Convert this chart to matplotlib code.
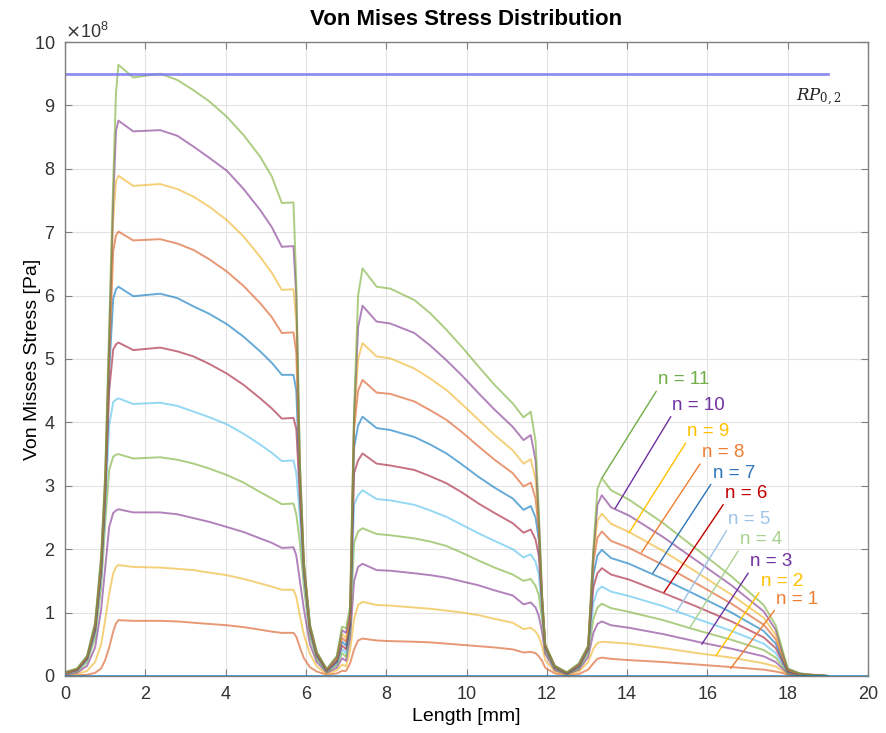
import matplotlib as mpl
import matplotlib.pyplot as plt
import numpy as np

mpl.rcParams['font.family'] = 'sans-serif'
mpl.rcParams['font.sans-serif'] = ['Liberation Sans', 'DejaVu Sans']

# position along the part [mm]
length_mm = [0.0, 0.3, 0.55, 0.75, 0.9, 1.0, 1.1, 1.2, 1.27, 1.33,
             1.7, 2.37, 2.8, 3.2, 3.6, 4.03, 4.45, 4.86, 5.15, 5.4, 5.69,
             5.76, 5.85, 5.95, 6.1, 6.27, 6.52,
             6.77, 6.9, 7.0, 7.1, 7.2, 7.3, 7.41,
             7.76, 8.1, 8.7, 9.1, 9.5, 9.9, 10.3, 10.7, 11.15, 11.42, 11.6,
             11.72, 11.8, 11.88, 11.96, 12.2, 12.5,
             12.8, 13.03, 13.16, 13.26, 13.37,
             13.6, 14.05, 14.9, 15.75, 16.6, 17.4, 17.7,
             17.85, 18.0, 18.3, 18.6, 19.0]

# von Mises stress for each step n, in 1e8 Pa
stress_n1 = [0.0, 0.01, 0.02, 0.05, 0.12, 0.25, 0.45, 0.7, 0.83, 0.88,
             0.87, 0.87, 0.86, 0.84, 0.82, 0.80, 0.77, 0.73, 0.70, 0.68, 0.68,
             0.62, 0.45, 0.28, 0.14, 0.07, 0.02,
             0.04, 0.08, 0.08, 0.2, 0.42, 0.56, 0.59,
             0.56, 0.55, 0.54, 0.53, 0.51, 0.49, 0.47, 0.45, 0.42, 0.37, 0.38,
             0.36, 0.31, 0.24, 0.13, 0.04, 0.01,
             0.03, 0.1, 0.2, 0.27, 0.29,
             0.27, 0.25, 0.22, 0.18, 0.14, 0.10, 0.07,
             0.05, 0.02, 0.01, 0.0, 0.0]
stress_n2 = [0.01, 0.03, 0.08, 0.22, 0.5, 0.88, 1.3, 1.62, 1.72, 1.75,
             1.72, 1.71, 1.69, 1.67, 1.63, 1.59, 1.53, 1.46, 1.41, 1.36, 1.36,
             1.25, 0.95, 0.65, 0.35, 0.15, 0.03,
             0.09, 0.18, 0.15, 0.4, 0.9, 1.12, 1.17,
             1.12, 1.11, 1.08, 1.06, 1.03, 1.00, 0.96, 0.90, 0.84, 0.74, 0.76,
             0.7, 0.62, 0.48, 0.25, 0.07, 0.02,
             0.07, 0.22, 0.43, 0.52, 0.54,
             0.53, 0.51, 0.44, 0.36, 0.29, 0.20, 0.15,
             0.09, 0.03, 0.01, 0.0, 0.0]
stress_n3 = [0.02, 0.05, 0.16, 0.45, 1.05, 1.7, 2.35, 2.57, 2.61, 2.63,
             2.58, 2.58, 2.55, 2.49, 2.43, 2.35, 2.27, 2.17, 2.10, 2.02, 2.03,
             1.9, 1.5, 1.05, 0.5, 0.22, 0.05,
             0.13, 0.28, 0.24, 0.6, 1.5, 1.72, 1.77,
             1.67, 1.66, 1.62, 1.59, 1.55, 1.49, 1.43, 1.35, 1.27, 1.13, 1.16,
             1.08, 0.95, 0.7, 0.35, 0.09, 0.03,
             0.1, 0.3, 0.68, 0.82, 0.86,
             0.80, 0.76, 0.66, 0.54, 0.43, 0.31, 0.22,
             0.13, 0.04, 0.01, 0.01, 0.0]
stress_n4 = [0.03, 0.07, 0.22, 0.6, 1.4, 2.4, 3.25, 3.46, 3.49, 3.50,
             3.43, 3.45, 3.41, 3.35, 3.27, 3.17, 3.05, 2.90, 2.80, 2.71, 2.72,
             2.55, 2.1, 1.4, 0.62, 0.27, 0.06,
             0.17, 0.36, 0.3, 0.7, 2.1, 2.28, 2.33,
             2.24, 2.22, 2.17, 2.12, 2.05, 1.94, 1.82, 1.71, 1.60, 1.50, 1.53,
             1.42, 1.28, 0.9, 0.4, 0.11, 0.03,
             0.12, 0.36, 0.9, 1.08, 1.14,
             1.07, 1.01, 0.88, 0.72, 0.57, 0.41, 0.29,
             0.17, 0.05, 0.02, 0.01, 0.0]
stress_n5 = [0.04, 0.08, 0.25, 0.68, 1.55, 2.65, 3.95, 4.32, 4.36, 4.38,
             4.29, 4.31, 4.26, 4.17, 4.08, 3.97, 3.82, 3.65, 3.52, 3.39, 3.40,
             3.2, 2.5, 1.55, 0.68, 0.3, 0.07,
             0.2, 0.42, 0.36, 0.75, 2.7, 2.85, 2.93,
             2.79, 2.77, 2.70, 2.61, 2.51, 2.38, 2.25, 2.13, 2.00, 1.87, 1.92,
             1.8, 1.6, 1.05, 0.43, 0.12, 0.04,
             0.14, 0.4, 1.15, 1.35, 1.41,
             1.33, 1.26, 1.10, 0.90, 0.71, 0.51, 0.36,
             0.21, 0.06, 0.02, 0.01, 0.0]
stress_n6 = [0.04, 0.09, 0.27, 0.72, 1.65, 2.8, 4.5, 5.15, 5.23, 5.26,
             5.14, 5.18, 5.12, 5.04, 4.92, 4.77, 4.59, 4.38, 4.22, 4.06, 4.07,
             3.9, 2.8, 1.65, 0.72, 0.32, 0.08,
             0.22, 0.48, 0.42, 0.8, 3.2, 3.4, 3.51,
             3.35, 3.32, 3.25, 3.15, 3.04, 2.89, 2.72, 2.57, 2.41, 2.26, 2.31,
             2.15, 1.9, 1.15, 0.45, 0.13, 0.04,
             0.15, 0.42, 1.4, 1.62, 1.70,
             1.60, 1.52, 1.31, 1.09, 0.86, 0.61, 0.44,
             0.25, 0.07, 0.02, 0.01, 0.0]
stress_n7 = [0.05, 0.1, 0.28, 0.75, 1.7, 2.9, 4.8, 5.95, 6.1, 6.14,
             5.99, 6.03, 5.96, 5.83, 5.71, 5.55, 5.35, 5.12, 4.94, 4.75, 4.75,
             4.5, 3.0, 1.7, 0.75, 0.34, 0.09,
             0.24, 0.54, 0.48, 0.85, 3.6, 3.95, 4.09,
             3.91, 3.88, 3.77, 3.65, 3.51, 3.33, 3.14, 2.97, 2.80, 2.62, 2.68,
             2.5, 2.15, 1.2, 0.46, 0.14, 0.04,
             0.16, 0.44, 1.6, 1.9, 1.99,
             1.86, 1.77, 1.53, 1.27, 1.00, 0.71, 0.51,
             0.29, 0.08, 0.03, 0.01, 0.0]
stress_n8 = [0.05, 0.1, 0.29, 0.78, 1.75, 2.95, 5.0, 6.7, 6.95, 7.01,
             6.87, 6.89, 6.82, 6.72, 6.57, 6.38, 6.15, 5.88, 5.66, 5.41, 5.42,
             5.1, 3.1, 1.72, 0.77, 0.35, 0.09,
             0.26, 0.6, 0.54, 0.9, 3.9, 4.5, 4.67,
             4.47, 4.45, 4.33, 4.19, 4.04, 3.84, 3.62, 3.41, 3.20, 2.99, 3.05,
             2.8, 2.3, 1.23, 0.47, 0.15, 0.05,
             0.17, 0.45, 1.8, 2.18, 2.28,
             2.13, 2.02, 1.75, 1.45, 1.14, 0.81, 0.58,
             0.33, 0.09, 0.03, 0.01, 0.0]
stress_n9 = [0.05, 0.11, 0.3, 0.8, 1.8, 3.0, 5.2, 7.2, 7.8, 7.89,
             7.73, 7.76, 7.68, 7.56, 7.40, 7.19, 6.93, 6.61, 6.36, 6.09, 6.10,
             5.6, 3.2, 1.75, 0.78, 0.36, 0.1,
             0.28, 0.66, 0.6, 0.95, 4.0, 5.0, 5.25,
             5.04, 5.01, 4.85, 4.69, 4.51, 4.28, 4.04, 3.80, 3.56, 3.35, 3.42,
             3.1, 2.4, 1.26, 0.48, 0.15, 0.05,
             0.18, 0.46, 1.9, 2.45, 2.56,
             2.40, 2.27, 1.97, 1.63, 1.28, 0.92, 0.65,
             0.37, 0.10, 0.03, 0.02, 0.0]
stress_n10 = [0.06, 0.11, 0.31, 0.82, 1.85, 3.1, 5.3, 7.5, 8.6, 8.76,
              8.59, 8.61, 8.52, 8.35, 8.17, 7.97, 7.68, 7.35, 7.08, 6.77, 6.78,
              6.0, 3.3, 1.78, 0.8, 0.37, 0.1,
              0.3, 0.72, 0.68, 1.0, 4.1, 5.5, 5.84,
              5.59, 5.56, 5.41, 5.21, 4.98, 4.73, 4.46, 4.20, 3.93, 3.72, 3.80,
              3.4, 2.5, 1.28, 0.49, 0.16, 0.05,
              0.19, 0.47, 1.95, 2.7, 2.85,
              2.66, 2.53, 2.19, 1.81, 1.43, 1.02, 0.73,
              0.41, 0.11, 0.04, 0.02, 0.0]
stress_n11 = [0.06, 0.12, 0.32, 0.85, 1.9, 3.2, 5.5, 7.8, 9.2, 9.64,
              9.44, 9.50, 9.40, 9.24, 9.06, 8.82, 8.53, 8.19, 7.88, 7.46, 7.47,
              6.2, 3.4, 1.8, 0.82, 0.38, 0.11,
              0.32, 0.78, 0.75, 1.1, 4.2, 6.0, 6.43,
              6.14, 6.11, 5.93, 5.72, 5.46, 5.18, 4.88, 4.59, 4.30, 4.08, 4.17,
              3.7, 2.6, 1.3, 0.5, 0.16, 0.06,
              0.2, 0.48, 2.0, 2.95, 3.12,
              2.93, 2.78, 2.41, 1.99, 1.57, 1.12, 0.80,
              0.45, 0.12, 0.04, 0.02, 0.0]

curves = [stress_n1, stress_n2, stress_n3, stress_n4, stress_n5, stress_n6,
          stress_n7, stress_n8, stress_n9, stress_n10, stress_n11]

rp02 = 9.5          # yield strength RP0,2 in 1e8 Pa
rp02_end = 19.0

step_labels = ['n = %d' % n for n in range(1, 12)]
# where each label's leader line points (on the third peak)
tip_x = [16.58, 16.21, 15.86, 15.55, 15.23, 14.92, 14.64, 14.36, 14.05, 13.70, 13.37]
tip_y = [0.12, 0.32, 0.50, 0.75, 1.01, 1.32, 1.62, 1.95, 2.26, 2.64, 3.12]
text_x = [17.72, 17.33, 17.06, 16.81, 16.52, 16.44, 16.13, 15.86, 15.50, 15.13, 14.77]
text_y = [1.21, 1.49, 1.80, 2.15, 2.47, 2.88, 3.20, 3.52, 3.85, 4.27, 4.67]

# matlab default line order, first one is the zero line
matlab = ['#0072BD', '#D95319', '#EDB120', '#7E2F8E', '#77AC30', '#4DBEEE', '#A2142F']
line_colors = [matlab[i % 7] for i in range(12)]
label_colors = ['#ED7D31', '#FFC000', '#7030A0', '#A9D18E', '#9DC3E6', '#C00000',
                '#2E75B6', '#ED7D31', '#FFC000', '#7030A0', '#70AD47']

fig = plt.figure(figsize=(8.87, 7.33), dpi=100)
ax = fig.add_axes([0.0733, 0.0778, 0.9053, 0.8649])

x = np.array(length_mm)
ax.plot([0, 20], [0, 0], color=line_colors[0], lw=2, alpha=0.7, zorder=3)
for i, s in enumerate(curves):
    ax.plot(x, np.array(s) * 1e8, color=line_colors[i + 1], lw=1.4, alpha=0.6)

ax.plot([0, rp02_end], [rp02 * 1e8, rp02 * 1e8], color='#7B7BF0', lw=2, alpha=0.85)
ax.text(18.2, 9.13e8, r'$RP_{0,2}$', fontsize=12, math_fontfamily='dejavuserif',
        va='center', ha='left', color='#222222')

for i in range(11):
    ax.annotate(step_labels[i], xy=(tip_x[i], tip_y[i] * 1e8),
                xytext=(text_x[i], text_y[i] * 1e8),
                color=label_colors[i], fontsize=13.5, ha='left', va='center',
                arrowprops=dict(arrowstyle='-', color=label_colors[i], lw=1,
                                shrinkA=0, shrinkB=0, relpos=(0, 0)))

ax.set_xlim(0, 20)
ax.set_ylim(0, 1e9)
ax.set_xticks(range(0, 21, 2))
ax.set_yticks(np.arange(0, 11) * 1e8)
ax.ticklabel_format(axis='y', style='sci', scilimits=(8, 8), useMathText=True)
ax.yaxis.get_offset_text().set_fontsize(13)
ax.yaxis.get_offset_text().set_color('#444444')

ax.grid(True, color='#E3E3E3', lw=0.8)
ax.set_axisbelow(True)
ax.tick_params(direction='in', top=True, right=True, length=5, width=0.8,
               color='#7f7f7f', labelsize=13, labelcolor='#333333', pad=7)
for sp in ax.spines.values():
    sp.set_color('#7f7f7f')
    sp.set_linewidth(1)

ax.set_title('Von Mises Stress Distribution', fontsize=16, fontweight='bold', pad=12)
ax.set_xlabel('Length [mm]', fontsize=14)
ax.set_ylabel('Von Misses Stress [Pa]', fontsize=14)
ax.xaxis.set_label_coords(0.5, -0.05)
ax.yaxis.set_label_coords(-0.03, 0.5)

fig.savefig('out.png', dpi=100)
